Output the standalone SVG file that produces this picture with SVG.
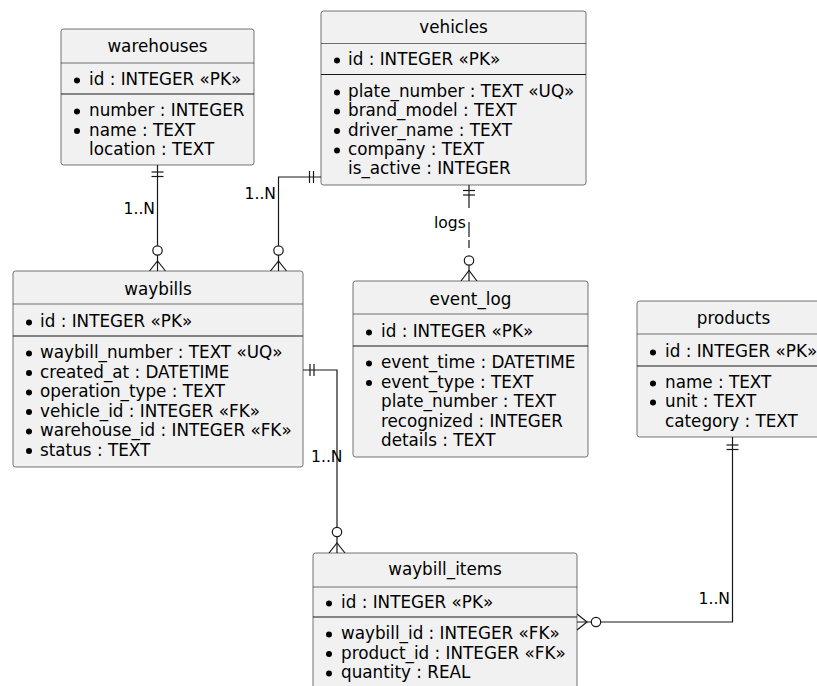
<svg xmlns="http://www.w3.org/2000/svg" width="817" height="686" viewBox="0 0 817 686">
<style>
.box{fill:#F1F1F1;stroke:#181818;stroke-width:0.6}
.sep{stroke:#181818;stroke-width:0.6}
.sep2{stroke:#181818;stroke-width:1.2}
.t{font-family:"DejaVu Sans",sans-serif;font-size:16.8px;fill:#000}
.title{text-anchor:middle}
.lbl{font-family:"DejaVu Sans",sans-serif;font-size:15.6px;fill:#000}
.b{fill:#000}
.c{fill:none;stroke:#181818;stroke-width:1.2}
.o{fill:#fff;stroke:#181818;stroke-width:1.2}
</style>
<rect width="817" height="686" fill="#fff"/>

<g id="connectors">
  <!-- warehouses -> waybills -->
  <line class="c" x1="157.5" y1="165" x2="157.5" y2="271"/>
  <line class="c" x1="151.5" y1="172" x2="163.5" y2="172"/>
  <line class="c" x1="151.5" y1="176.5" x2="163.5" y2="176.5"/>
  <path class="c" d="M149.5,271 L157.5,261 L165.5,271"/>
  <circle class="o" cx="157.5" cy="250.5" r="4.7"/>
  <text class="lbl" x="155" y="214" text-anchor="end">1..N</text>

  <!-- vehicles -> waybills -->
  <path class="c" d="M321,177 H278.5 V271"/>
  <line class="c" x1="309.5" y1="171" x2="309.5" y2="183"/>
  <line class="c" x1="313.5" y1="171" x2="313.5" y2="183"/>
  <path class="c" d="M270.5,271 L278.5,261 L286.5,271"/>
  <circle class="o" cx="278.5" cy="250.5" r="4.7"/>
  <text class="lbl" x="276" y="199" text-anchor="end">1..N</text>

  <!-- vehicles -> event_log (logs) -->
  <line class="c" x1="469" y1="185" x2="469" y2="208"/>
  <line class="c" x1="469" y1="222" x2="469" y2="237" />
  <line class="c" x1="469" y1="240" x2="469" y2="248" />
  <line class="c" x1="469" y1="256" x2="469" y2="281"/>
  <line class="c" x1="463" y1="190.5" x2="475" y2="190.5"/>
  <line class="c" x1="463" y1="195" x2="475" y2="195"/>
  <path class="c" d="M461,281 L469,270.5 L477,281"/>
  <circle class="o" cx="469" cy="260.5" r="4.7"/>
  <text class="lbl" x="434" y="228">logs</text>

  <!-- waybills -> waybill_items -->
  <path class="c" d="M303,370 H337 V553"/>
  <line class="c" x1="310" y1="364" x2="310" y2="376"/>
  <line class="c" x1="314" y1="364" x2="314" y2="376"/>
  <path class="c" d="M329,553 L337,543 L345,553"/>
  <circle class="o" cx="337" cy="532" r="4.7"/>
  <text class="lbl" x="311" y="462">1..N</text>

  <!-- products -> waybill_items -->
  <path class="c" d="M732.5,437 V622 H577"/>
  <line class="c" x1="726.5" y1="445" x2="738.5" y2="445"/>
  <line class="c" x1="726.5" y1="449.5" x2="738.5" y2="449.5"/>
  <path class="c" d="M577,614 L587,622 L577,630"/>
  <circle class="o" cx="596" cy="622" r="4.7"/>
  <text class="lbl" x="730" y="604" text-anchor="end">1..N</text>
</g>

<g id="warehouses">
  <rect class="box" x="61" y="29" width="193" height="136" rx="2.5"/>
  <line class="sep" x1="61" y1="63" x2="254" y2="63"/>
  <line class="sep2" x1="61" y1="94" x2="254" y2="94"/>
  <text class="t title" x="157.5" y="52">warehouses</text>
  <circle class="b" cx="77" cy="80.5" r="3"/>
  <text class="t" x="89" y="85">id : INTEGER «PK»</text>
  <circle class="b" cx="77" cy="111.5" r="3"/>
  <text class="t" x="89" y="116">number : INTEGER</text>
  <circle class="b" cx="77" cy="131" r="3"/>
  <text class="t" x="89" y="135.5">name : TEXT</text>
  <text class="t" x="89" y="155">location : TEXT</text>
</g>

<g id="vehicles">
  <rect class="box" x="321" y="11" width="265" height="174" rx="2.5"/>
  <line class="sep" x1="321" y1="43.5" x2="586" y2="43.5"/>
  <line class="sep2" x1="321" y1="74.5" x2="586" y2="74.5"/>
  <text class="t title" x="453.5" y="33">vehicles</text>
  <circle class="b" cx="337" cy="60.5" r="3"/>
  <text class="t" x="348" y="65">id : INTEGER «PK»</text>
  <circle class="b" cx="337" cy="92.5" r="3"/>
  <text class="t" x="348" y="97">plate_number : TEXT «UQ»</text>
  <circle class="b" cx="337" cy="111.5" r="3"/>
  <text class="t" x="348" y="116">brand_model : TEXT</text>
  <circle class="b" cx="337" cy="131" r="3"/>
  <text class="t" x="348" y="135.5">driver_name : TEXT</text>
  <circle class="b" cx="337" cy="150.5" r="3"/>
  <text class="t" x="348" y="155">company : TEXT</text>
  <text class="t" x="348" y="174">is_active : INTEGER</text>
</g>

<g id="waybills">
  <rect class="box" x="13" y="271" width="290" height="196" rx="2.5"/>
  <line class="sep" x1="13" y1="304" x2="303" y2="304"/>
  <line class="sep2" x1="13" y1="336" x2="303" y2="336"/>
  <text class="t title" x="158" y="295">waybills</text>
  <circle class="b" cx="29" cy="322.5" r="3"/>
  <text class="t" x="40" y="327">id : INTEGER «PK»</text>
  <circle class="b" cx="29" cy="353.5" r="3"/>
  <text class="t" x="40" y="358">waybill_number : TEXT «UQ»</text>
  <circle class="b" cx="29" cy="373" r="3"/>
  <text class="t" x="40" y="377.5">created_at : DATETIME</text>
  <circle class="b" cx="29" cy="392.5" r="3"/>
  <text class="t" x="40" y="397">operation_type : TEXT</text>
  <circle class="b" cx="29" cy="412" r="3"/>
  <text class="t" x="40" y="416.5">vehicle_id : INTEGER «FK»</text>
  <circle class="b" cx="29" cy="431.5" r="3"/>
  <text class="t" x="40" y="436">warehouse_id : INTEGER «FK»</text>
  <circle class="b" cx="29" cy="451" r="3"/>
  <text class="t" x="40" y="455.5">status : TEXT</text>
</g>

<g id="event_log">
  <rect class="box" x="353" y="281" width="235" height="176" rx="2.5"/>
  <line class="sep" x1="353" y1="314" x2="588" y2="314"/>
  <line class="sep2" x1="353" y1="346" x2="588" y2="346"/>
  <text class="t title" x="470.5" y="305">event_log</text>
  <circle class="b" cx="369" cy="332.5" r="3"/>
  <text class="t" x="381" y="337">id : INTEGER «PK»</text>
  <circle class="b" cx="369" cy="363.5" r="3"/>
  <text class="t" x="381" y="368">event_time : DATETIME</text>
  <circle class="b" cx="369" cy="383" r="3"/>
  <text class="t" x="381" y="387.5">event_type : TEXT</text>
  <text class="t" x="381" y="407">plate_number : TEXT</text>
  <text class="t" x="381" y="426.5">recognized : INTEGER</text>
  <text class="t" x="381" y="446">details : TEXT</text>
</g>

<g id="products">
  <rect class="box" x="637" y="301" width="193" height="136" rx="2.5"/>
  <line class="sep" x1="637" y1="334" x2="830" y2="334"/>
  <line class="sep2" x1="637" y1="366" x2="830" y2="366"/>
  <text class="t title" x="733.5" y="324">products</text>
  <circle class="b" cx="653" cy="352.5" r="3"/>
  <text class="t" x="665" y="357">id : INTEGER «PK»</text>
  <circle class="b" cx="653" cy="383.5" r="3"/>
  <text class="t" x="665" y="388">name : TEXT</text>
  <circle class="b" cx="653" cy="402.5" r="3"/>
  <text class="t" x="665" y="407">unit : TEXT</text>
  <text class="t" x="665" y="427">category : TEXT</text>
</g>

<g id="waybill_items">
  <rect class="box" x="313" y="553" width="264" height="200" rx="2.5"/>
  <line class="sep" x1="313" y1="587" x2="577" y2="587"/>
  <line class="sep2" x1="313" y1="617" x2="577" y2="617"/>
  <text class="t title" x="445" y="575">waybill_items</text>
  <circle class="b" cx="329" cy="603.5" r="3"/>
  <text class="t" x="341" y="608">id : INTEGER «PK»</text>
  <circle class="b" cx="329" cy="634.5" r="3"/>
  <text class="t" x="341" y="639">waybill_id : INTEGER «FK»</text>
  <circle class="b" cx="329" cy="654" r="3"/>
  <text class="t" x="341" y="658.5">product_id : INTEGER «FK»</text>
  <circle class="b" cx="329" cy="673.5" r="3"/>
  <text class="t" x="341" y="678">quantity : REAL</text>
</g>
</svg>
